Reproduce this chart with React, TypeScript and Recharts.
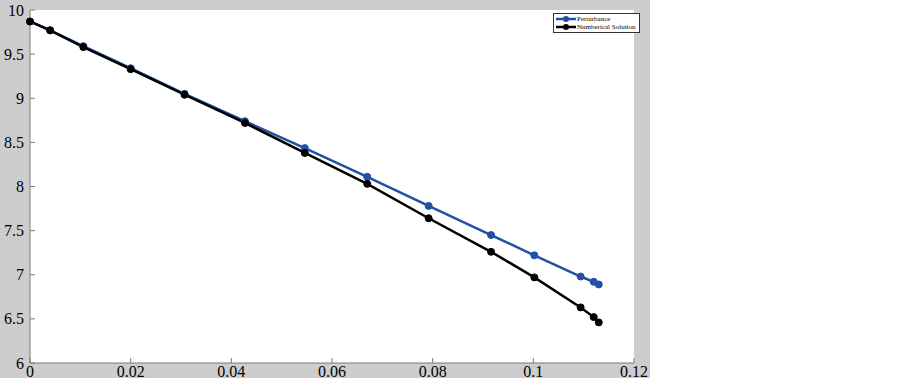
import { LineChart, Line, XAxis, YAxis, CartesianGrid, Legend } from 'recharts';

const xValues = [0, 0.004, 0.0106, 0.02, 0.0307, 0.0427, 0.0546, 0.067, 0.0792, 0.0916, 0.1002, 0.1094, 0.112, 0.113];
const perturbance = [9.87, 9.77, 9.59, 9.34, 9.05, 8.74, 8.435, 8.11, 7.78, 7.45, 7.22, 6.98, 6.92, 6.89];
const numerical = [9.87, 9.77, 9.58, 9.33, 9.04, 8.72, 8.38, 8.03, 7.64, 7.26, 6.97, 6.63, 6.52, 6.46];
const xTicks = [0, 0.02, 0.04, 0.06, 0.08, 0.1, 0.12];
const yTicks = [6, 6.5, 7, 7.5, 8, 8.5, 9, 9.5, 10];
const seriesNames = ['Perturbance', 'Numberical Solution'];

const BLUE = '#2150a6';
const BLACK = '#000000';
const AXIS = '#7a7a7a';
const FONT = '"Liberation Serif", "Times New Roman", serif';

const data = xValues.map((x, i) => ({ x, p: perturbance[i], n: numerical[i] }));

// tick renderers: short inward tick + label
const BottomTick = ({ x, y, payload }: any) => (
  <g>
    <line x1={x} y1={y} x2={x} y2={y - 5} stroke={AXIS} />
    <text x={x} y={y + 14} textAnchor="middle" style={{ fontSize: 16, fontFamily: FONT }} fill="#000">
      {payload.value}
    </text>
  </g>
);

const TopTick = ({ x, y }: any) => <line x1={x} y1={y} x2={x} y2={y + 5} stroke={AXIS} />;

const LeftTick = ({ x, y, payload }: any) => (
  <g>
    <line x1={x} y1={y} x2={x + 5} y2={y} stroke={AXIS} />
    <text x={x - 6} y={y + 5.5} textAnchor="end" style={{ fontSize: 16, fontFamily: FONT }} fill="#000">
      {payload.value}
    </text>
  </g>
);

const RightTick = ({ x, y }: any) => <line x1={x} y1={y} x2={x - 5} y2={y} stroke={AXIS} />;

const renderLegend = () => (
  <div
    style={{
      border: '1px solid #333',
      background: '#fff',
      padding: '1px 3px 1px 2px',
      fontFamily: FONT,
      fontSize: 7,
      lineHeight: '8px',
      color: '#000',
    }}
  >
    {seriesNames.map((name, i) => {
      const color = i === 0 ? BLUE : BLACK;
      return (
        <div key={name} style={{ display: 'flex', alignItems: 'center' }}>
          <svg width={20} height={8}>
            <line x1={0} y1={4} x2={20} y2={4} stroke={color} strokeWidth={2.5} />
            <circle cx={10} cy={4} r={3} fill={color} />
          </svg>
          <span style={{ marginLeft: 1, color: '#000' }}>{name}</span>
        </div>
      );
    })}
  </div>
);

export default function App() {
  return (
    <div style={{ position: 'absolute', left: 0, top: 0, width: 650, height: 383 }}>
      <div style={{ position: 'absolute', left: 0, top: 0, width: 650, height: 378, background: '#cdcdcd' }} />
      <LineChart width={650} height={383} data={data} margin={{ top: 10, right: 16, bottom: 5, left: 0 }}>
        <CartesianGrid fill="#ffffff" horizontal={false} vertical={false} />
        <XAxis
          dataKey="x"
          type="number"
          domain={[0, 0.12]}
          ticks={xTicks}
          height={15}
          tickSize={0}
          tickMargin={0}
          tick={<BottomTick />}
          axisLine={{ stroke: AXIS }}
          tickLine={false}
          interval={0}
        />
        <XAxis
          xAxisId="top"
          orientation="top"
          dataKey="x"
          type="number"
          domain={[0, 0.12]}
          ticks={xTicks}
          height={0}
          tickSize={0}
          tickMargin={0}
          tick={<TopTick />}
          axisLine={{ stroke: AXIS }}
          tickLine={false}
          interval={0}
        />
        <YAxis
          type="number"
          domain={[6, 10]}
          ticks={yTicks}
          width={30}
          tickSize={0}
          tickMargin={0}
          tick={<LeftTick />}
          axisLine={{ stroke: AXIS }}
          tickLine={false}
          interval={0}
        />
        <YAxis
          yAxisId="right"
          orientation="right"
          type="number"
          domain={[6, 10]}
          ticks={yTicks}
          width={0}
          tickSize={0}
          tickMargin={0}
          tick={<RightTick />}
          axisLine={{ stroke: AXIS }}
          tickLine={false}
          interval={0}
        />
        <Legend
          layout="horizontal"
          verticalAlign="middle"
          align="center"
          content={renderLegend}
          wrapperStyle={{ top: 13, left: 553, width: 'auto' }}
        />
        <Line
          type="linear"
          dataKey="p"
          name={seriesNames[0]}
          stroke={BLUE}
          strokeWidth={2.5}
          dot={{ r: 3.5, fill: BLUE, stroke: BLUE, strokeWidth: 1 }}
          isAnimationActive={false}
        />
        <Line
          type="linear"
          dataKey="n"
          name={seriesNames[1]}
          stroke={BLACK}
          strokeWidth={2.5}
          dot={{ r: 3.5, fill: BLACK, stroke: BLACK, strokeWidth: 1 }}
          isAnimationActive={false}
        />
      </LineChart>
    </div>
  );
}
